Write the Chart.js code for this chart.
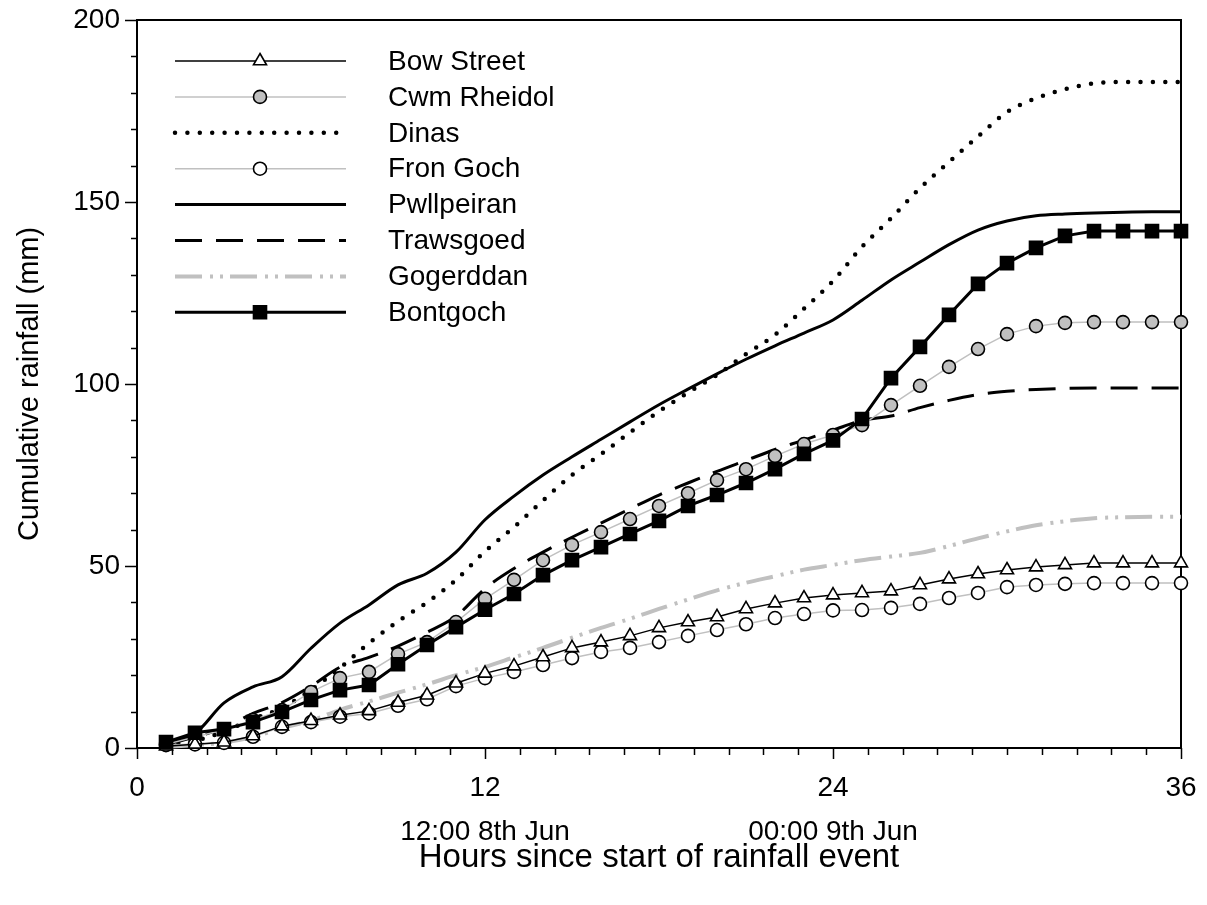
<!DOCTYPE html>
<html>
<head>
<meta charset="utf-8">
<title>Cumulative rainfall</title>
<script src="https://cdn.jsdelivr.net/npm/chart.js@4.4.1/dist/chart.umd.min.js"></script>
<style>
    html, body { margin: 0; padding: 0; background: #fff; }
    #wrap { width: 1207px; height: 905px; }
</style>
</head>
<body>
<div id="wrap"><canvas id="rainChart" width="1207" height="905"></canvas></div>
<script>
(function () {
    'use strict';

    // ─── Data (mm, hourly) ────────────────────────────────────────────────────
    const hours = [1, 2, 3, 4, 5, 6, 7, 8, 9, 10, 11, 12, 13, 14, 15, 16, 17, 18,
                   19, 20, 21, 22, 23, 24, 25, 26, 27, 28, 29, 30, 31, 32, 33, 34, 35, 36];

    const bowStreet  = [0.5, 1, 1.6, 3.3, 6, 7.5, 9, 10.2, 12.5, 14.5, 17.8, 20.5, 22.5, 25, 27.5, 29.1, 30.8, 33,
                        34.6, 36, 38.2, 39.8, 41.2, 42, 42.6, 43.1, 44.8, 46.4, 47.8, 48.9, 49.7, 50.3, 50.8, 50.8, 50.8, 50.8];
    const cwmRheidol = [1, 3, 5, 7.7, 10.4, 15.4, 19.2, 20.9, 25.8, 29.1, 34.6, 41, 46.2, 51.6, 55.8, 59.3, 62.9, 66.5,
                        70, 73.6, 76.6, 80.2, 83.5, 86, 88.7, 94.2, 99.5, 104.7, 109.6, 113.7, 115.9, 116.8, 117, 117, 117, 117];
    const dinas      = [1, 2, 4.5, 8, 11, 16, 22, 28.8, 34.8, 40, 46.2, 54, 60.7, 68, 75, 80.7, 86.7, 92.5,
                        97.6, 102.5, 108.2, 113.5, 120.7, 128.3, 137.7, 145.5, 153.8, 161, 168, 174.7, 178.5, 181, 182.6, 183, 183, 183];
    const fronGoch   = [0.8, 1, 1.4, 3.1, 5.8, 7.1, 8.6, 9.5, 11.6, 13.4, 17, 19.2, 20.9, 22.8, 24.7, 26.4, 27.5, 29.1,
                        30.8, 32.4, 34, 35.7, 36.8, 37.8, 37.9, 38.5, 39.6, 41.2, 42.6, 44.2, 44.8, 45.1, 45.3, 45.3, 45.3, 45.3];
    const pwllpeiran = [1.6, 4, 12.4, 16.8, 19.6, 27.4, 34.3, 39.3, 44.8, 48, 53.8, 62.7, 69.2, 75, 80, 84.8, 89.6, 94.3,
                        98.6, 102.8, 106.8, 110.5, 114, 117.6, 123, 128.6, 133.5, 138.3, 142.3, 144.8, 146.2, 146.7, 147, 147.2, 147.3, 147.3];
    const trawsgoed  = [1, 3, 5.5, 9.5, 12.5, 17, 22.2, 24.9, 28, 31.8, 36.2, 43.8, 49.3, 53.8, 57.9, 61.8, 65.7, 69.5,
                        72.8, 76, 79, 82, 84.6, 87.3, 90, 91.2, 93.5, 95.5, 97.1, 98, 98.5, 98.8, 98.9, 98.9, 98.9, 98.9];
    const gogerddan  = [0.3, 0.8, 1.5, 3, 5.5, 7.5, 10.5, 12.8, 15.2, 17.5, 20, 22.3, 24.9, 27.5, 30.3, 33, 35.5, 38.2,
                        40.8, 43.3, 45.4, 47.2, 49, 50.3, 51.6, 52.6, 53.6, 55.5, 57.6, 59.5, 61.2, 62.3, 63.1, 63.4, 63.5, 63.5];
    const bontgoch   = [1.6, 4.2, 5.2, 7.1, 9.9, 13.2, 15.9, 17.3, 23, 28.3, 33.2, 38, 42.3, 47.5, 51.6, 55.2, 58.8, 62.4,
                        66.5, 69.5, 72.8, 76.6, 80.8, 84.5, 90.4, 101.6, 110.2, 119, 127.5, 133.2, 137.4, 140.7, 142, 142, 142, 142];

    const xTicks     = [0, 12, 24, 36];
    const yTicks     = [0, 50, 100, 150, 200];
    const dateTicks  = [12, 24];
    const dateLabels = ['12:00 8th Jun', '00:00 9th Jun'];

    const FONT  = '"Liberation Sans", Arial, sans-serif';
    const GREY  = '#c0c0c0';
    const xMinorStep = 1.2;
    const yMinorStep = 10;

    function pts(vals) {
        return hours.map((h, i) => ({ x: h, y: vals[i] }));
    }

    // ─── Plugins ──────────────────────────────────────────────────────────────
    // box round the plot plus outward major / minor tick marks
    const frameTicks = {
        id: 'frameTicks',
        beforeDatasetsDraw(chart) {
            const { ctx, chartArea: a, scales: { x, y } } = chart;
            ctx.save();
            ctx.strokeStyle = '#000';
            ctx.lineWidth = 2;
            ctx.strokeRect(a.left, a.top, a.right - a.left, a.bottom - a.top);

            ctx.lineWidth = 1.5;
            ctx.beginPath();
            for (let v = x.min; v <= x.max + 1e-6; v += xMinorStep) {
                const px = Math.round(x.getPixelForValue(v)) + 0.5;
                const major = xTicks.some(t => Math.abs(t - v) < 1e-6);
                ctx.moveTo(px, a.bottom);
                ctx.lineTo(px, a.bottom + (major ? 11 : 7));
            }
            for (let v = y.min; v <= y.max + 1e-6; v += yMinorStep) {
                const py = Math.round(y.getPixelForValue(v)) + 0.5;
                const major = yTicks.some(t => Math.abs(t - v) < 1e-6);
                ctx.moveTo(a.left, py);
                ctx.lineTo(a.left - (major ? 12 : 6), py);
            }
            ctx.stroke();
            ctx.restore();
        }
    };

    // legend box in the upper-left of the plot: sample line, marker, name
    const insideLegend = {
        id: 'insideLegend',
        afterDraw(chart) {
            const { ctx, chartArea: a } = chart;
            chart.data.datasets.forEach((ds, i) => {
                const cy = a.top + 41 + i * 35.9;
                const x0 = a.left + 38, x1 = a.left + (ds.borderCapStyle === 'round' ? 200 : 209);
                ctx.save();
                ctx.strokeStyle = ds.borderColor;
                ctx.lineWidth   = ds.borderWidth;
                ctx.lineCap     = ds.borderCapStyle || 'butt';
                ctx.setLineDash(ds.borderDash || []);
                ctx.beginPath();
                ctx.moveTo(x0, cy);
                ctx.lineTo(x1, cy);
                ctx.stroke();
                ctx.setLineDash([]);
                if (ds.pointRadius > 0) {
                    ctx.fillStyle   = ds.pointBackgroundColor;
                    ctx.strokeStyle = ds.pointBorderColor;
                    ctx.lineWidth   = ds.pointBorderWidth;
                    Chart.helpers.drawPoint(ctx, {
                        pointStyle: ds.pointStyle,
                        radius: ds.pointRadius,
                        borderWidth: ds.pointBorderWidth,
                        rotation: 0
                    }, a.left + 123, cy);
                }
                ctx.fillStyle = '#000';
                ctx.font = '28px ' + FONT;
                ctx.textBaseline = 'middle';
                ctx.textAlign = 'left';
                ctx.fillText(ds.label, a.left + 251, cy + 1);
                ctx.restore();
            });
        }
    };

    // ─── Datasets ─────────────────────────────────────────────────────────────
    const marked = (label, vals, line, lineW, style, radius, fill, order) => ({
        label, data: pts(vals), order,
        borderColor: line, borderWidth: lineW, tension: 0,
        pointStyle: style, pointRadius: radius, pointHoverRadius: radius,
        pointBackgroundColor: fill, pointBorderColor: '#000', pointBorderWidth: 1.6,
        clip: false
    });
    const plain = (label, vals, colour, width, dash, cap, order) => ({
        label, data: pts(vals), order,
        borderColor: colour, borderWidth: width, borderDash: dash, borderCapStyle: cap,
        cubicInterpolationMode: 'monotone', pointRadius: 0, pointHoverRadius: 0,
        clip: false
    });

    const datasets = [
        marked('Bow Street',  bowStreet,  '#000', 1.5, 'triangle', 7.5, '#fff', 1),
        marked('Cwm Rheidol', cwmRheidol, GREY,   1.5, 'circle',   6.5, GREY,   3),
        plain('Dinas',        dinas,      '#000', 4.5, [0, 12.4], 'round', 5),
        marked('Fron Goch',   fronGoch,   GREY,   1.5, 'circle',   6.5, '#fff', 2),
        plain('Pwllpeiran',   pwllpeiran, '#000', 3, [], 'butt', 4),
        plain('Trawsgoed',    trawsgoed,  '#000', 3, [27, 14], 'butt', 6),
        plain('Gogerddan',    gogerddan,  GREY,   4, [27, 8, 3, 7, 3, 7], 'butt', 7),
        marked('Bontgoch',    bontgoch,   '#000', 3,   'rect',     9.2, '#000', 0)
    ];

    // invisible tick marks keep the label gap without adding edge padding
    const hiddenTicks = len => ({
        display: true, drawOnChartArea: false, drawTicks: true,
        tickLength: len, tickColor: 'rgba(0,0,0,0)'
    });

    // ─── Chart ────────────────────────────────────────────────────────────────
    new Chart(document.getElementById('rainChart'), {
        type: 'line',
        data: { datasets },
        plugins: [frameTicks, insideLegend],
        options: {
            responsive: false,
            animation: false,
            layout: { padding: { top: 20, right: 26, bottom: 0, left: 0 } },
            plugins: { legend: { display: false }, tooltip: { enabled: false } },
            scales: {
                x: {
                    type: 'linear', min: 0, max: 36,
                    afterBuildTicks: s => { s.ticks = xTicks.map(v => ({ value: v })); },
                    afterFit: s => { s.height = 157; },
                    grid: hiddenTicks(18),
                    border: { display: false },
                    ticks: {
                        color: '#000', padding: 0, maxRotation: 0,
                        font: { family: FONT, size: 28, lineHeight: 1.571 },
                        callback: v => {
                            const i = dateTicks.indexOf(v);
                            return i >= 0 ? [String(v), dateLabels[i]] : String(v);
                        }
                    },
                    title: {
                        display: true, text: 'Hours since start of rainfall event', color: '#000',
                        font: { family: FONT, size: 33 }, padding: { top: 0, bottom: 27 }
                    }
                },
                y: {
                    min: 0, max: 200,
                    afterBuildTicks: s => { s.ticks = yTicks.map(v => ({ value: v })); },
                    afterFit: s => { s.width = 137; },
                    grid: hiddenTicks(17),
                    border: { display: false },
                    ticks: { color: '#000', padding: 0, font: { family: FONT, size: 28 } },
                    title: {
                        display: true, text: 'Cumulative rainfall (mm)', color: '#000',
                        font: { family: FONT, size: 29 }, padding: { top: 13, bottom: 0 }
                    }
                }
            }
        }
    });
})();
</script>
</body>
</html>
